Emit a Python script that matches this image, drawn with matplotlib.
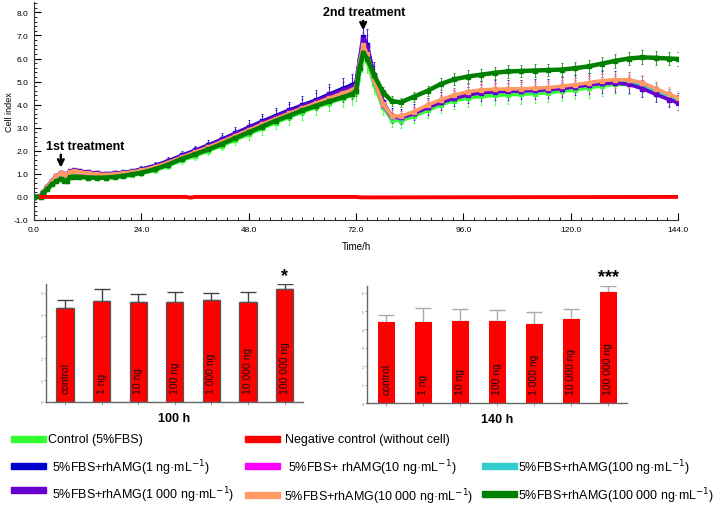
import matplotlib
matplotlib.use("Agg")
import matplotlib.pyplot as plt
from matplotlib.patches import Rectangle
from matplotlib.ticker import MultipleLocator, FormatStrFormatter

plt.rcParams['font.family'] = ['Liberation Sans', 'DejaVu Sans']

hours = [0, 1.5, 2, 3, 4, 5, 6, 6.8, 7.3, 8,
         9, 10, 12, 14, 16, 18, 20, 22, 24, 27,
         30, 33, 36, 39, 42, 45, 48, 51, 54, 57,
         60, 63, 66, 69, 71, 72, 72.8, 73.6, 74.5, 76,
         78, 80, 82, 85, 88, 91, 94, 97, 100, 103,
         106, 109, 112, 115, 118, 121, 124, 127, 130, 133,
         136, 139, 142, 144]

ci_control = [0, 0, 0.12, 0.33, 0.55, 0.7, 0.8, 0.72, 0.7, 0.88,
              0.9, 0.88, 0.84, 0.82, 0.83, 0.85, 0.9, 0.95, 1.02, 1.15,
              1.35, 1.58, 1.78, 2.0, 2.22, 2.47, 2.72, 2.97, 3.22, 3.45,
              3.68, 3.88, 4.08, 4.27, 4.4, 4.55, 5.5, 6.3, 5.9, 4.9,
              3.9, 3.35, 3.3, 3.5, 3.75, 4.0, 4.18, 4.28, 4.36, 4.4,
              4.43, 4.45, 4.48, 4.52, 4.58, 4.65, 4.73, 4.82, 4.88, 4.88,
              4.78, 4.55, 4.35, 4.22]
ci_1ng = [0, 0.05, 0.2, 0.45, 0.7, 0.9, 1.02, 1.0, 0.95, 1.1,
          1.13, 1.12, 1.06, 1.02, 1.0, 1.02, 1.06, 1.12, 1.2, 1.36,
          1.56, 1.8, 2.02, 2.25, 2.5, 2.76, 3.02, 3.28, 3.52, 3.76,
          3.98, 4.2, 4.45, 4.7, 4.85, 4.95, 6.0, 6.95, 6.6, 5.3,
          4.1, 3.5, 3.45, 3.65, 3.9, 4.12, 4.3, 4.45, 4.55, 4.6,
          4.62, 4.62, 4.63, 4.66, 4.72, 4.8, 4.88, 4.95, 4.98, 4.92,
          4.75, 4.5, 4.25, 4.1]
ci_10ng = [0, 0.03, 0.18, 0.42, 0.66, 0.86, 0.98, 0.95, 0.9, 1.05,
           1.08, 1.06, 1.0, 0.96, 0.95, 0.97, 1.01, 1.06, 1.13, 1.28,
           1.47, 1.7, 1.92, 2.14, 2.38, 2.63, 2.88, 3.13, 3.37, 3.6,
           3.82, 4.03, 4.25, 4.47, 4.6, 4.72, 5.8, 6.7, 6.3, 5.1,
           4.0, 3.45, 3.42, 3.62, 3.88, 4.12, 4.32, 4.48, 4.58, 4.62,
           4.62, 4.6, 4.6, 4.64, 4.7, 4.78, 4.86, 4.92, 4.96, 4.92,
           4.78, 4.55, 4.32, 4.18]
ci_100ng = [0, 0.04, 0.19, 0.43, 0.68, 0.88, 1.0, 0.97, 0.92, 1.08,
            1.1, 1.09, 1.03, 0.99, 0.97, 0.99, 1.03, 1.08, 1.16, 1.31,
            1.5, 1.74, 1.96, 2.18, 2.42, 2.68, 2.93, 3.18, 3.42, 3.66,
            3.88, 4.1, 4.33, 4.56, 4.7, 4.8, 5.85, 6.8, 6.4, 5.2,
            4.05, 3.48, 3.44, 3.64, 3.9, 4.12, 4.3, 4.44, 4.53, 4.57,
            4.58, 4.58, 4.6, 4.64, 4.7, 4.78, 4.86, 4.94, 4.98, 4.94,
            4.8, 4.58, 4.36, 4.22]
ci_1000ng = [0, 0.05, 0.2, 0.45, 0.7, 0.9, 1.03, 1.0, 0.95, 1.12,
             1.15, 1.13, 1.07, 1.02, 1.0, 1.02, 1.05, 1.1, 1.18, 1.34,
             1.54, 1.78, 2.0, 2.22, 2.47, 2.73, 2.98, 3.24, 3.48, 3.72,
             3.94, 4.16, 4.4, 4.63, 4.78, 4.9, 5.9, 6.85, 6.5, 5.25,
             4.1, 3.5, 3.45, 3.62, 3.88, 4.1, 4.28, 4.42, 4.52, 4.56,
             4.58, 4.6, 4.62, 4.65, 4.7, 4.78, 4.86, 4.92, 4.95, 4.88,
             4.7, 4.45, 4.22, 4.08]
ci_10000ng = [0, 0.04, 0.2, 0.44, 0.69, 0.9, 1.02, 0.98, 0.93, 1.09,
              1.11, 1.09, 1.03, 0.99, 0.97, 0.99, 1.03, 1.08, 1.15, 1.3,
              1.49, 1.72, 1.94, 2.16, 2.4, 2.65, 2.9, 3.15, 3.39, 3.62,
              3.85, 4.06, 4.28, 4.5, 4.63, 4.75, 5.8, 6.6, 6.2, 5.1,
              4.05, 3.52, 3.5, 3.7, 3.98, 4.22, 4.42, 4.56, 4.64, 4.67,
              4.68, 4.69, 4.71, 4.74, 4.8, 4.87, 4.95, 5.04, 5.08, 5.08,
              4.95, 4.7, 4.45, 4.3]
ci_100000ng = [0, 0, 0.15, 0.35, 0.55, 0.68, 0.78, 0.7, 0.68, 0.85,
               0.88, 0.87, 0.84, 0.83, 0.84, 0.87, 0.92, 0.98, 1.05, 1.2,
               1.4, 1.65, 1.85, 2.06, 2.3, 2.55, 2.8, 3.05, 3.3, 3.52,
               3.75, 3.95, 4.14, 4.32, 4.45, 4.6, 5.6, 6.25, 6.0, 5.3,
               4.55, 4.15, 4.1, 4.35, 4.6, 4.9, 5.1, 5.22, 5.3, 5.38,
               5.44, 5.46, 5.48, 5.5, 5.52, 5.58, 5.66, 5.78, 5.9, 6.0,
               6.05, 6.03, 6.0, 5.98]

neg_hours = [1.5, 34, 35, 36, 72, 73, 144]
ci_negative = [0.0, 0.0, -0.03, 0.0, 0.0, -0.02, 0.0]

# relative error (lower, upper) seen on each curve
series = [
    ("Control (5%FBS)", ci_control, "#33ff33", (0.09, 0.0)),
    ("1 ng", ci_1ng, "#0000cc", (0.0, 0.1)),
    ("10 ng", ci_10ng, "#ff00ff", (0.0, 0.06)),
    ("100 ng", ci_100ng, "#33cccc", (0.05, 0.05)),
    ("1 000 ng", ci_1000ng, "#6600cc", (0.08, 0.08)),
    ("10 000 ng", ci_10000ng, "#ff9966", (0.07, 0.07)),
    ("100 000 ng", ci_100000ng, "#008000", (0.05, 0.05)),
]

# ---- end-point bar charts ----
bar_labels = ['control', '1 ng', '10 ng', '100 ng', '1 000 ng', '10 000 ng', '100 000 ng']
ci_100h = [4.32, 4.60, 4.57, 4.57, 4.65, 4.57, 5.18]
sd_100h = [0.36, 0.55, 0.37, 0.46, 0.33, 0.46, 0.21]
ci_140h = [4.39, 4.43, 4.47, 4.47, 4.30, 4.57, 6.05]
sd_140h = [0.38, 0.76, 0.64, 0.61, 0.65, 0.56, 0.31]

legend_rows = [
    ("Control (5%FBS)", "#33ff33"),
    ("Negative control (without cell)", "#ff0000"),
    ("5%FBS+rhAMG(1 ng\u00b7mL$^{-1}$)", "#0000cc"),
    ("5%FBS+ rhAMG(10 ng\u00b7mL$^{-1}$)", "#ff00ff"),
    ("5%FBS+rhAMG(100 ng\u00b7mL$^{-1}$)", "#33cccc"),
    ("5%FBS+rhAMG(1 000 ng\u00b7mL$^{-1}$)", "#6600cc"),
    ("5%FBS+rhAMG(10 000 ng\u00b7mL$^{-1}$)", "#ff9966"),
    ("5%FBS+rhAMG(100 000 ng\u00b7mL$^{-1}$)", "#008000"),
]

W, H = 717, 506
fig = plt.figure(figsize=(W / 100, H / 100), dpi=100)


def box(x0, y0, x1, y1):
    return [x0 / W, 1 - y1 / H, (x1 - x0) / W, (y1 - y0) / H]


# ---------------- top chart ----------------
ax = fig.add_axes(box(34, 3, 678, 221))
for name, vals, col, (rlo, rhi) in series:
    lo = [v * rlo for v in vals]
    hi = [v * rhi for v in vals]
    ax.errorbar(hours, vals, yerr=[lo, hi], fmt='none', ecolor=col,
                elinewidth=0.6, capsize=1.0, capthick=0.6, alpha=0.9, zorder=2)
for name, vals, col, _ in series:
    lw = 3.2 if name == "100 000 ng" else 2.6
    ax.plot(hours, vals, color=col, lw=lw, marker='s', ms=2.2, zorder=3)
ax.plot(neg_hours, ci_negative, color="#ff0000", lw=2.8, zorder=4)

ax.set_xlim(0, 144)
ax.set_ylim(-1, 8.45)
ax.xaxis.set_major_locator(MultipleLocator(24))
ax.xaxis.set_minor_locator(MultipleLocator(2.4))
ax.yaxis.set_major_locator(MultipleLocator(1))
ax.yaxis.set_minor_locator(MultipleLocator(0.2))
ax.xaxis.set_major_formatter(FormatStrFormatter('%.1f'))
ax.yaxis.set_major_formatter(FormatStrFormatter('%.1f'))
ax.tick_params(direction='in', labelsize=6, length=5, width=0.8, pad=4)
ax.tick_params(which='minor', direction='in', length=2.5, width=0.6)
for s in ('top', 'right'):
    ax.spines[s].set_visible(False)
for s in ('left', 'bottom'):
    ax.spines[s].set_color('#333333')
ax.set_xlabel('Time/h', fontsize=7)
ax.xaxis.set_label_coords(0.5, -0.095)
ax.set_ylabel('Cell index', fontsize=6.5)
ax.yaxis.set_label_coords(-0.031, 0.5)

ax.annotate('', xy=(6.0, 1.15), xytext=(6.0, 1.95),
            arrowprops=dict(arrowstyle='->', lw=1.8, color='black', mutation_scale=10))
ax.text(11.5, 2.2, '1st treatment', fontsize=9, fontweight='bold', ha='center', va='center')
ax.annotate('', xy=(73.6, 7.1), xytext=(73.6, 7.75),
            arrowprops=dict(arrowstyle='->', lw=1.8, color='black', mutation_scale=10))
ax.text(73.8, 8.0, '2nd treatment', fontsize=9, fontweight='bold', ha='center', va='center')


# ---------------- bar charts ----------------
def bar_panel(rect, vals, sds, ymax, ticks, title, star, edge, ecol):
    b = fig.add_axes(rect)
    xs = list(range(len(vals)))
    b.bar(xs, vals, width=0.47, color='#ff0000', edgecolor=edge,
          linewidth=0.9 if edge != 'none' else 0, zorder=2)
    b.errorbar(xs, vals, yerr=[[0] * len(vals), sds], fmt='none', ecolor=ecol,
               elinewidth=1.0, capsize=6, capthick=1.0, zorder=1)
    for x, lab in zip(xs, bar_labels):
        b.text(x, ymax * 0.075, lab, rotation=90, ha='center', va='bottom',
               fontsize=7.5, color='#111111', zorder=3)
    b.set_xlim(-0.52, 6.5)
    b.set_ylim(0, ymax)
    b.set_yticks(ticks)
    b.tick_params(axis='y', labelsize=2.5, length=1.5, width=0.5,
                  pad=1, colors='#777777')
    b.set_xticks(xs)
    b.set_xticklabels([])
    b.tick_params(axis='x', length=2, width=0.5, colors='#777777')
    for s in ('top', 'right'):
        b.spines[s].set_visible(False)
    for s in ('left', 'bottom'):
        b.spines[s].set_color('#666666')
        b.spines[s].set_linewidth(1.0)
    b.text(xs[-1], vals[-1] + sds[-1] + ymax * 0.005, star, ha='center',
           va='bottom', fontsize=13, fontweight='bold')
    b.set_xlabel(title, fontsize=9, fontweight='bold', labelpad=2)
    return b


bar_panel(box(46, 285, 303, 403), ci_100h, sd_100h, 5.4, [0, 1, 2, 3, 4, 5],
          '100 h', '*', '#555555', '#444444')
bar_panel(box(367, 287, 627, 404), ci_140h, sd_140h, 6.36, [0, 1, 2, 3, 4, 5, 6],
          '140 h', '***', 'none', '#aaaaaa')

# ---------------- legend ----------------
lg = fig.add_axes([0, 0, 1, 1])
lg.set_xlim(0, W)
lg.set_ylim(H, 0)
lg.axis('off')
slots = [(11, 440, 440), (245, 440, 440),
         (11, 467, 468), (245, 467, 468), (482, 467, 468),
         (11, 491, 495), (245, 496, 497), (482, 495, 496)]
text_dx = [37, 40, 41, 43, 36, 41, 39, 36]
for (lab, col), (x0, yp, yt), dx in zip(legend_rows, slots, text_dx):
    lg.add_patch(Rectangle((x0, yp - 3), 35, 6, color=col))
    lg.text(x0 + dx, yt, lab, fontsize=9, va='center', ha='left')

fig.savefig('out.png', dpi=100)
